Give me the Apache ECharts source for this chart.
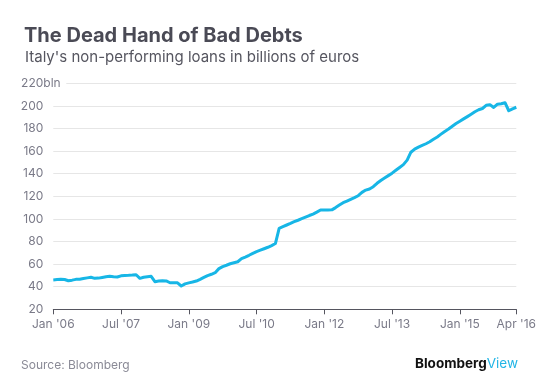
<!DOCTYPE html>
<html>
<head>
<meta charset="utf-8">
<script src="https://cdn.jsdelivr.net/npm/echarts@6/dist/echarts.min.js"></script>
<style>
html,body{margin:0;padding:0;background:#fff;}
#chart{width:557px;height:392px;}
</style>
</head>
<body>
<div id="chart"></div>
<script>
// Monthly categories Jan 2006 .. Apr 2016
const monthNames = ['Jan','Feb','Mar','Apr','May','Jun','Jul','Aug','Sep','Oct','Nov','Dec'];
const categories = [];
for (let y = 2006; y <= 2016; y++) {
  for (let m = 0; m < 12; m++) {
    if (y === 2016 && m > 3) break;
    categories.push(monthNames[m] + " '" + String(y).slice(2));
  }
}
// Tick labels shown on the x axis
const tickLabels = ["Jan '06", "Jul '07", "Jan '09", "Jul '10", "Jan '12", "Jul '13", "Jan '15", "Apr '16"];
// Non-performing loans, billions of euros
const npl = [
  46, 46.3, 46.5, 46.4, 45.3, 45.8, 46.5, 46.6, 47.2, 47.8, 48.3, 47.4,
  47.6, 48.2, 48.8, 49.2, 48.8, 48.6, 49.6, 50, 50.1, 50.3, 50.6, 47.4,
  48.3, 48.8, 49.2, 44.4, 45, 45.3, 45.1, 43.5, 43.5, 43.4, 40.6, 42.5,
  43.4, 44.1, 45, 46.5, 48.2, 49.8, 51, 52.4, 56, 57.8, 59, 60.3,
  61.2, 62.1, 64.8, 66.2, 67.8, 69.5, 71, 72.3, 73.6, 74.9, 76.4, 78.2,
  91.7, 93.2, 94.6, 96, 97.5, 98.8, 100.2, 101.6, 103, 104.3, 106, 107.9,
  107.9, 107.9, 108, 110, 112.2, 114.3, 115.8, 117.3, 118.8, 120.5, 123.5, 125.5,
  126.5, 128.5, 131.5, 134, 136.2, 138.3, 140.5, 143, 145.5, 148, 152, 159,
  161.8, 163.5, 165, 166.5, 168.3, 170.5, 172.5, 175, 177.4, 179.5, 182, 184.4,
  186.5, 188.5, 190.5, 192.6, 194.8, 196.6, 197.7, 200.5, 201.1, 198.6, 201.5, 201.9,
  202.8, 195.7, 197.4, 198.8
];
const yTicks = [20, 40, 60, 80, 100, 120, 140, 160, 180, 200, 220];

const FONT = 'Inter, "Liberation Sans", sans-serif';
const chart = echarts.init(document.getElementById('chart'), null, {renderer: 'canvas'});
const showIdx = idx => tickLabels.indexOf(categories[idx]) >= 0;

chart.setOption({
  animation: false,
  backgroundColor: '#fff',
  textStyle: {fontFamily: FONT},
  title: [
    {text: 'The Dead Hand of Bad Debts', left: 19, top: 21,
     textStyle: {fontFamily: FONT, fontSize: 20, fontWeight: 'bold', color: '#4a4a55'}},
    {text: "Italy's non-performing loans in billions of euros", left: 20, top: 45,
     textStyle: {fontFamily: FONT, fontSize: 15, fontWeight: 'normal', color: '#55555f'}}
  ],
  grid: {left: 53.3, right: 40.7, top: 83.3, bottom: 82.7},
  xAxis: {
    type: 'category',
    data: categories,
    boundaryGap: false,
    axisLine: {show: true, lineStyle: {color: '#55555f', width: 1}},
    axisTick: {show: true, interval: idx => showIdx(idx), length: 5, lineStyle: {color: '#55555f'}},
    axisLabel: {interval: idx => showIdx(idx), color: '#7a7a88', fontSize: 12, margin: 9, fontFamily: FONT},
    splitLine: {show: false}
  },
  yAxis: {
    type: 'value',
    min: yTicks[0], max: yTicks[yTicks.length - 1], interval: 20,
    axisLine: {show: false},
    axisTick: {show: false},
    axisLabel: {color: '#7a7a88', fontSize: 12, margin: 10, fontFamily: FONT},
    splitLine: {lineStyle: {color: '#e6e6e6', width: 1}}
  },
  series: [{
    type: 'line',
    data: npl,
    symbol: 'none',
    lineStyle: {color: '#17b6e6', width: 3, join: 'round'},
    z: 3
  }]
});

// "bln" suffix on the top label, with a gap in the top gridline
const p = chart.convertToPixel({gridIndex: 0}, [0, 220]);
chart.setOption({
  graphic: [
    {type: 'rect', z: 100, shape: {x: p[0] - 1, y: p[1] - 2, width: 14, height: 4}, style: {fill: '#fff'}},
    {type: 'text', z: 101, x: p[0] - 10, y: p[1], style: {text: 'bln', fill: '#7a7a88', font: '12px ' + FONT, textVerticalAlign: 'middle'}},
    {type: 'text', z: 101, left: 21, top: 359, style: {text: 'Source: Bloomberg', fill: '#8a8a96', font: '12px ' + FONT}},
    {type: 'text', z: 101, right: 39, top: 357,
     style: {text: '{b|Bloomberg}{v|View}', rich: {
       b: {fontFamily: FONT, fontSize: 13.5, fontWeight: 'bold', fill: '#111', color: '#111'},
       v: {fontFamily: FONT, fontSize: 13.5, fontWeight: 'normal', fill: '#22b5e6', color: '#22b5e6'}
     }}}
  ]
});
</script>
</body>
</html>
